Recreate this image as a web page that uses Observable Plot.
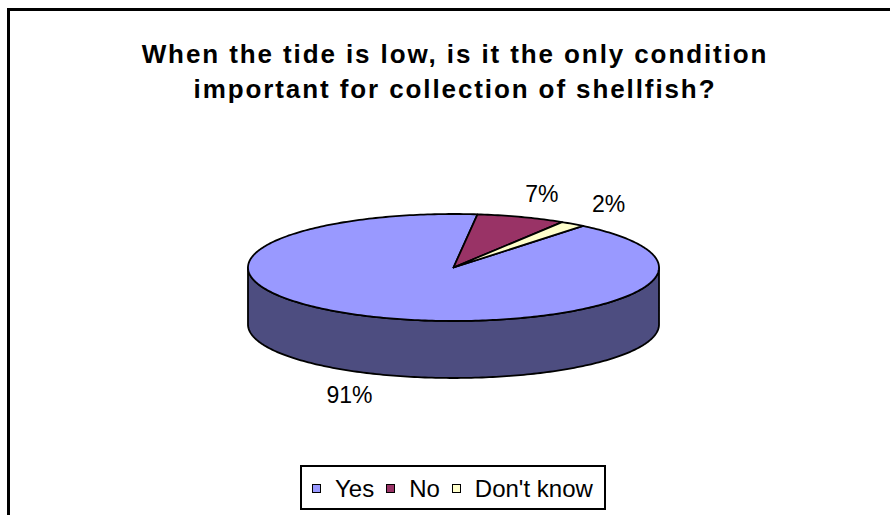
<!DOCTYPE html>
<html><head><meta charset="utf-8">
<script src="https://cdn.jsdelivr.net/npm/d3@7"></script>
<script src="https://cdn.jsdelivr.net/npm/@observablehq/plot@0.6"></script>
<style>
html,body{margin:0;padding:0;background:#fff;overflow:hidden;width:890px;height:515px;}
body{position:relative;font-family:"Liberation Sans",Arial,sans-serif;color:#000;}
#frame{position:absolute;left:7px;top:8px;width:1000px;height:600px;border-left:3px solid #000;border-top:3px solid #000;box-sizing:border-box;}
#title{position:absolute;left:10px;width:890px;top:36.5px;text-align:center;font-weight:bold;font-size:26px;letter-spacing:1.9px;line-height:35px;white-space:nowrap;}
#chart{position:absolute;left:0;top:130px;}
#legend{position:absolute;left:300px;top:465px;width:306px;height:45px;box-sizing:border-box;border:2px solid #000;display:flex;align-items:center;padding:2px 0 0 10px;font-size:24px;line-height:24px;background:#fff;white-space:nowrap;}
#legend .item{display:flex;align-items:center;margin-right:12px;flex-shrink:0;}
#legend .sw{display:inline-block;width:7px;height:7px;border:1.5px solid #000;margin-right:14px;flex-shrink:0;}
</style>
</head><body>
<div id="frame"></div>
<div id="title">When the tide is low, is it the only condition<br>important for collection of shellfish?</div>
<div id="chart"></div>
<div id="legend"></div>
<script>
const categories = ["Yes", "No", "Don't know"];
const values = [91, 7, 2];
const labels = ["91%", "7%", "2%"];
const topColors = ["#9999FF", "#993366", "#FFFFCC"];
const sideColors = ["#4D4D80", "#4D1A33", "#808066"];
const startAngle = 39.1; // first slice angle, degrees clockwise from 12 o'clock

const total = d3.sum(values);
const rad = d => d * Math.PI / 180;
const DEPTH = 57 / 53.5; // pie thickness in units of vertical radius

let acc = startAngle;
const slices = categories.map((c, i) => {
  const a0 = acc, a1 = acc + values[i] / total * 360;
  acc = a1;
  return {c, i, a0, a1};
});

// top faces
const topPts = [];
slices.forEach(s => {
  topPts.push({key: s.c, x: 0, y: 0, fill: topColors[s.i]});
  const n = Math.max(2, Math.ceil(s.a1 - s.a0));
  for (let k = 0; k <= n; k++) {
    const t = rad(s.a0 + (s.a1 - s.a0) * k / n);
    topPts.push({key: s.c, x: Math.sin(t), y: -Math.cos(t), fill: topColors[s.i]});
  }
});

// visible side walls (front half: 90..270 deg)
const sidePts = [];
slices.forEach(s => {
  for (let r = -1; r <= 2; r++) {
    const lo = Math.max(s.a0, 90 + 360 * r), hi = Math.min(s.a1, 270 + 360 * r);
    if (hi <= lo) continue;
    const key = s.c + "-side" + r;
    const n = Math.max(2, Math.ceil(hi - lo));
    for (let k = 0; k <= n; k++) {
      const t = rad(lo + (hi - lo) * k / n);
      sidePts.push({key, x: Math.sin(t), y: -Math.cos(t), fill: sideColors[s.i]});
    }
    for (let k = n; k >= 0; k--) {
      const t = rad(lo + (hi - lo) * k / n);
      sidePts.push({key, x: Math.sin(t), y: -Math.cos(t) + DEPTH, fill: sideColors[s.i]});
    }
  }
});

// labels outside each slice
const labelData = slices.map(s => {
  const m = rad((s.a0 + s.a1) / 2);
  const yy = -Math.cos(m);
  return {text: labels[s.i], x: 1.3 * Math.sin(m), y: 1.45 * yy + (yy > 0 ? DEPTH : 0)};
});

const cx = 453, rx = 205.5, cy = 267 - 130, ry = 53.5;
const plot = Plot.plot({
  width: 890, height: 310, margin: 0,
  x: {domain: [-1, 1], range: [cx - rx, cx + rx], axis: null},
  y: {domain: [-1, 1], range: [cy - ry, cy + ry], axis: null},
  style: {fontFamily: "Liberation Sans, Arial, sans-serif", background: "transparent", overflow: "visible"},
  marks: [
    Plot.line(sidePts, {x: "x", y: "y", z: "key", fill: "fill", stroke: "#000", strokeWidth: 1.8, curve: "linear-closed", strokeLinejoin: "round"}),
    Plot.line(topPts, {x: "x", y: "y", z: "key", fill: "fill", stroke: "#000", strokeWidth: 1.8, curve: "linear-closed", strokeLinejoin: "round"}),
    Plot.text(labelData, {x: "x", y: "y", text: "text", fontSize: 23, fill: "#000"})
  ]
});
document.getElementById("chart").appendChild(plot);

const leg = d3.select("#legend");
categories.forEach((c, i) => {
  const it = leg.append("div").attr("class", "item");
  it.append("span").attr("class", "sw").style("background", topColors[i]);
  it.append("span").text(c);
});
</script>
</body></html>
